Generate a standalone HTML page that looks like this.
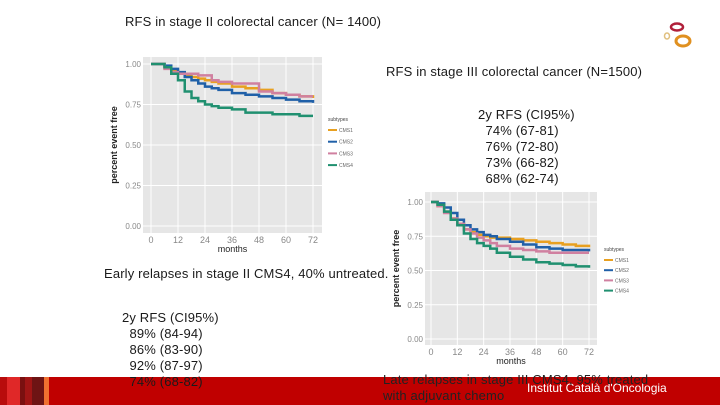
<!DOCTYPE html>
<html><head><meta charset="utf-8"><style>
body{margin:0;width:720px;height:405px;overflow:hidden;background:#fff;font-family:"Liberation Sans",sans-serif;position:relative}
.t{position:absolute;font-size:13px;color:#1a1a1a;white-space:nowrap;letter-spacing:0.15px}
svg{position:absolute;left:0;top:0}
</style></head><body>
<div class="t" style="left:125px;top:14px">RFS in stage II colorectal cancer (N= 1400)</div>
<div class="t" style="left:386px;top:64px">RFS in stage III colorectal cancer (N=1500)</div>
<div class="t" style="left:478px;top:107px;line-height:16px">2y RFS (CI95%)<br>&nbsp;&nbsp;74% (67-81)<br>&nbsp;&nbsp;76% (72-80)<br>&nbsp;&nbsp;73% (66-82)<br>&nbsp;&nbsp;68% (62-74)</div>
<div class="t" style="left:104px;top:266px">Early relapses in stage II CMS4, 40% untreated.</div>
<div style="position:absolute;left:0;top:377px;width:720px;height:28px;background:#c00000">
<div style="position:absolute;left:0;width:7px;height:28px;background:#b80c0c"></div>
<div style="position:absolute;left:7px;width:13px;height:28px;background:#e02828"></div>
<div style="position:absolute;left:20px;width:5px;height:28px;background:#7a1010"></div>
<div style="position:absolute;left:25px;width:7px;height:28px;background:#a01515"></div>
<div style="position:absolute;left:32px;width:12px;height:28px;background:#6e1414"></div>
<div style="position:absolute;left:44px;width:5px;height:28px;background:#f07030"></div>
<div style="position:absolute;left:527px;top:4px;color:#fff;font-size:12px">Institut Català d'Oncologia</div>
</div>
<div class="t" style="left:122px;top:310px;line-height:16px">2y RFS (CI95%)<br>&nbsp;&nbsp;89% (84-94)<br>&nbsp;&nbsp;86% (83-90)<br>&nbsp;&nbsp;92% (87-97)<br>&nbsp;&nbsp;74% (68-82)</div>
<div class="t" style="left:383px;top:372px;line-height:16px;color:#222">Late relapses in stage III CMS4, 95% treated<br>with adjuvant chemo</div>
<svg width="720" height="405" id="sv">
<g>
<ellipse cx="677" cy="27" rx="6" ry="3.5" fill="none" stroke="#b0203a" stroke-width="2.5"/>
<ellipse cx="683" cy="41" rx="7" ry="5" fill="none" stroke="#e09020" stroke-width="3"/>
<ellipse cx="667" cy="36" rx="2.5" ry="3" fill="none" stroke="#e0c080" stroke-width="1.5"/>
</g>
</svg>
<script>
const times=[0,3,6,9,12,15,18,21,24,27,30,36,42,48,54,60,66,72];
const xTicks=[0,12,24,36,48,60,72];
const yTicks=[0,0.25,0.5,0.75,1];
const subtypes=["CMS1","CMS2","CMS3","CMS4"];
const colors=["#e8a020","#2060a8","#d080a0","#209070"];
const s2CMS1=[1,1,.98,.96,.94,.93,.92,.91,.90,.89,.88,.86,.85,.84,.82,.81,.80,.79];
const s2CMS2=[1,1,.99,.97,.95,.92,.90,.88,.86,.85,.84,.82,.81,.80,.79,.78,.77,.76];
const s2CMS3=[1,1,.97,.95,.94,.94,.94,.93,.93,.90,.89,.88,.88,.83,.82,.81,.80,.80];
const s2CMS4=[1,1,.98,.94,.90,.83,.79,.77,.75,.74,.73,.72,.70,.70,.69,.69,.68,.68];
const s3CMS1=[1,.97,.93,.88,.84,.80,.78,.76,.75,.74,.74,.73,.72,.71,.70,.69,.68,.67];
const s3CMS2=[1,.99,.96,.92,.87,.83,.80,.78,.76,.75,.73,.71,.69,.67,.66,.65,.65,.64];
const s3CMS3=[1,.97,.92,.88,.84,.80,.77,.74,.72,.70,.68,.66,.65,.64,.63,.63,.63,.63];
const s3CMS4=[1,.98,.93,.87,.83,.77,.73,.70,.68,.66,.63,.60,.58,.56,.55,.54,.53,.52];
const NS="http://www.w3.org/2000/svg";
const sv=document.getElementById('sv');
function mk(tag,a,p){const e=document.createElementNS(NS,tag);for(const k in a)e.setAttribute(k,a[k]);(p||sv).appendChild(e);return e;}
function chart(cfg,series,pref){
 const g=mk('g',{});
 
 
 const X=t=>cfg.x0+(cfg.x1-cfg.x0)*t/72, Y=v=>cfg.y0+(cfg.y1-cfg.y0)*(1-v);
 mk('rect',{x:cfg.px0,y:cfg.py0,width:cfg.px1-cfg.px0,height:cfg.py1-cfg.py0,fill:'#e6e6e6'},g);
 xTicks.forEach(t=>{mk('line',{x1:X(t),x2:X(t),y1:cfg.py0,y2:cfg.py1,stroke:'#fff','stroke-width':1},g);
  const tx=mk('text',{x:X(t),y:cfg.py1+10,'font-size':9,'text-anchor':'middle',fill:'#888'},g);tx.textContent=t;
  });
 yTicks.forEach(v=>{mk('line',{x1:cfg.px0,x2:cfg.px1,y1:Y(v),y2:Y(v),stroke:'#fff','stroke-width':1},g);
  const tx=mk('text',{x:cfg.px0-2,y:Y(v)+3,'font-size':8,'text-anchor':'end',fill:'#888'},g);tx.textContent=v.toFixed(2);
  });
 const xl=mk('text',{x:(cfg.px0+cfg.px1)/2,y:cfg.py1+19,'font-size':9,'text-anchor':'middle',fill:'#222'},g);xl.textContent='months';
 
 const yl=mk('text',{x:0,y:0,'font-size':9,'text-anchor':'middle',fill:'#222','font-weight':'bold',transform:`translate(${cfg.px0-26},${(cfg.py0+cfg.py1)/2}) rotate(-90)`},g);yl.textContent='percent event free';
 
 series.forEach((s,i)=>{let d='M'+X(times[0])+','+Y(s[0]);
  for(let k=1;k<times.length;k++){d+=' H'+X(times[k])+' V'+Y(s[k]);}
  const p=mk('path',{d:d,fill:'none',stroke:colors[i],'stroke-width':2.5},g);
  });
 const lt=mk('text',{x:cfg.lx,y:cfg.ly,'font-size':5,fill:'#444'},g);lt.textContent='subtypes';
 
 subtypes.forEach((n,i)=>{const yy=cfg.ly+9+i*cfg.ls;
  const l=mk('line',{x1:cfg.lx,x2:cfg.lx+9,y1:yy,y2:yy,stroke:colors[i],'stroke-width':2},g);
  
  const tx=mk('text',{x:cfg.lx+11,y:yy+2,'font-size':5,fill:'#666'},g);tx.textContent=n;});
}
chart({px0:143,px1:322,py0:57,py1:233,x0:151,x1:313,y0:64,y1:226,lx:328,ly:121,ls:11.7},[s2CMS1,s2CMS2,s2CMS3,s2CMS4],'stage2');
chart({px0:425,px1:597,py0:192,py1:345,x0:431,x1:589,y0:202,y1:339,lx:604,ly:251,ls:10.2},[s3CMS1,s3CMS2,s3CMS3,s3CMS4],'stage3');
</script>
</body></html>
